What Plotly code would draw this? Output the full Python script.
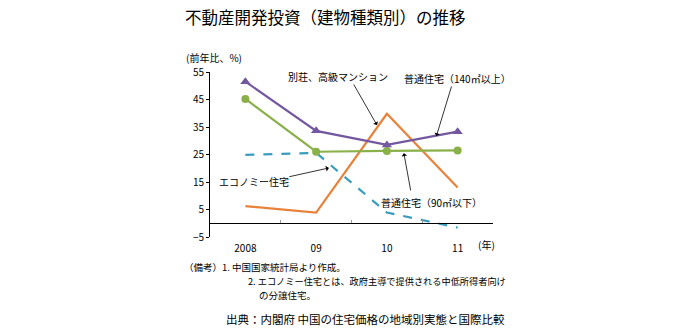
import plotly.graph_objects as go

years = ["2008", "09", "10", "11"]
luxury = [51.5, 33.6, 28.5, 33.3]        # purple, 普通住宅（140㎡以上）
normal90 = [45.2, 26.0, 26.3, 26.5]      # green, 普通住宅（90㎡以下）
villa = [6.2, 3.9, 39.8, 13.0]           # orange, 別荘、高級マンション
economy = [24.9, 25.6, 3.9, -1.6]        # teal dashed, エコノミー住宅
yticks = [55, 45, 35, 25, 15, 5, -5]

xi = list(range(len(years)))
FONT = "Noto Sans CJK JP"

fig = go.Figure()
fig.add_trace(go.Scatter(x=xi, y=villa, mode="lines",
                         line=dict(color="#E8823A", width=2.2), showlegend=False))
fig.add_trace(go.Scatter(x=xi, y=economy, mode="lines",
                         line=dict(color="#3A9CBF", width=2.2, dash="dash"), showlegend=False))
fig.add_trace(go.Scatter(x=xi, y=normal90, mode="lines+markers",
                         line=dict(color="#8AB04A", width=2.2),
                         marker=dict(symbol="circle", size=8, color="#8AB04A"), showlegend=False))
fig.add_trace(go.Scatter(x=xi, y=luxury, mode="lines+markers",
                         line=dict(color="#7357A0", width=2.2),
                         marker=dict(symbol="triangle-up", size=9, color="#7357A0"), showlegend=False))

fig.update_layout(
    width=690, height=330,
    margin=dict(l=210, r=197, t=72, b=93),
    paper_bgcolor="white", plot_bgcolor="white",
    font=dict(family=FONT, size=10, color="black"),
    xaxis=dict(range=[-0.5, 3.5], tickvals=xi, ticktext=years, showgrid=False,
               zeroline=False, showline=False, ticks="", ticklen=0,
               ticklabelstandoff=4, tickfont=dict(size=10)),
    xaxis2=dict(range=[-0.5, 3.5], overlaying="x", anchor="free", position=5/60,
                tickvals=[0.5, 1.5, 2.5, 3.5], showticklabels=False, showgrid=False,
                zeroline=False, showline=True, linecolor="black", linewidth=1,
                ticks="inside", ticklen=3, tickcolor="#999999"),
    yaxis=dict(range=[-5, 55], tickvals=yticks, ticktext=[str(v).replace("-", "−") for v in yticks],
               showgrid=False, zeroline=False, showline=True, linecolor="black",
               linewidth=1, ticks="outside", ticklen=3, tickcolor="black",
               tickfont=dict(size=10)),
)
# dummy trace so xaxis2 is drawn
fig.add_trace(go.Scatter(x=xi, y=economy, xaxis="x2", mode="none", hoverinfo="skip",
                         showlegend=False))

anns = []
def txt(x, y, s, size=10, xanchor="left"):
    anns.append(dict(x=x, y=y, xref="paper", yref="paper", text=s, showarrow=False,
                     xanchor=xanchor, yanchor="middle", font=dict(size=size, family=FONT)))

W, H = 690.0, 330.0
L, R, T, B = 210, 197, 72, 93
pw, ph = W - L - R, H - T - B
def px(xp):
    return (xp - L) / pw
def py(yp):
    return 1 - (yp - T) / ph

txt(px(183), py(17), "不動産開発投資（建物種類別）の推移", size=16.5)
txt(px(184), py(57), "(前年比、%)", size=10)
txt(px(476), py(244), "(年)", size=10)
txt(px(286), py(76), "別荘、高級マンション", size=10)
txt(px(402), py(78), "普通住宅（140㎡以上）", size=10)
txt(px(217), py(181), "エコノミー住宅", size=10)
txt(px(379), py(202), "普通住宅（90㎡以下）", size=10)
txt(px(182), py(267), "（備考）1. 中国国家統計局より作成。", size=9.5)
txt(px(246), py(281), "2. エコノミー住宅とは、政府主導で提供される中低所得者向け", size=9.2)
txt(px(257), py(295), "の分譲住宅。", size=9.5)
txt(px(224), py(319), "出典：内閣府 中国の住宅価格の地域別実態と国際比較", size=11.5)

arrows = [
    ((1.52, 51.0), (1.86, 35.7)),
    ((2.92, 50.3), (2.70, 31.7)),
    ((0.60, 16.8), (1.18, 20.1)),
    ((2.34, 11.4), (2.24, 25.5)),
]
for (tx, ty), (hx, hy) in arrows:
    anns.append(dict(x=hx, y=hy, ax=tx, ay=ty, xref="x", yref="y", axref="x", ayref="y",
                     text="", showarrow=True, arrowhead=1, arrowsize=1.2, arrowwidth=0.8,
                     arrowcolor="black"))
fig.update_layout(annotations=anns)

fig.write_html("out.html")
